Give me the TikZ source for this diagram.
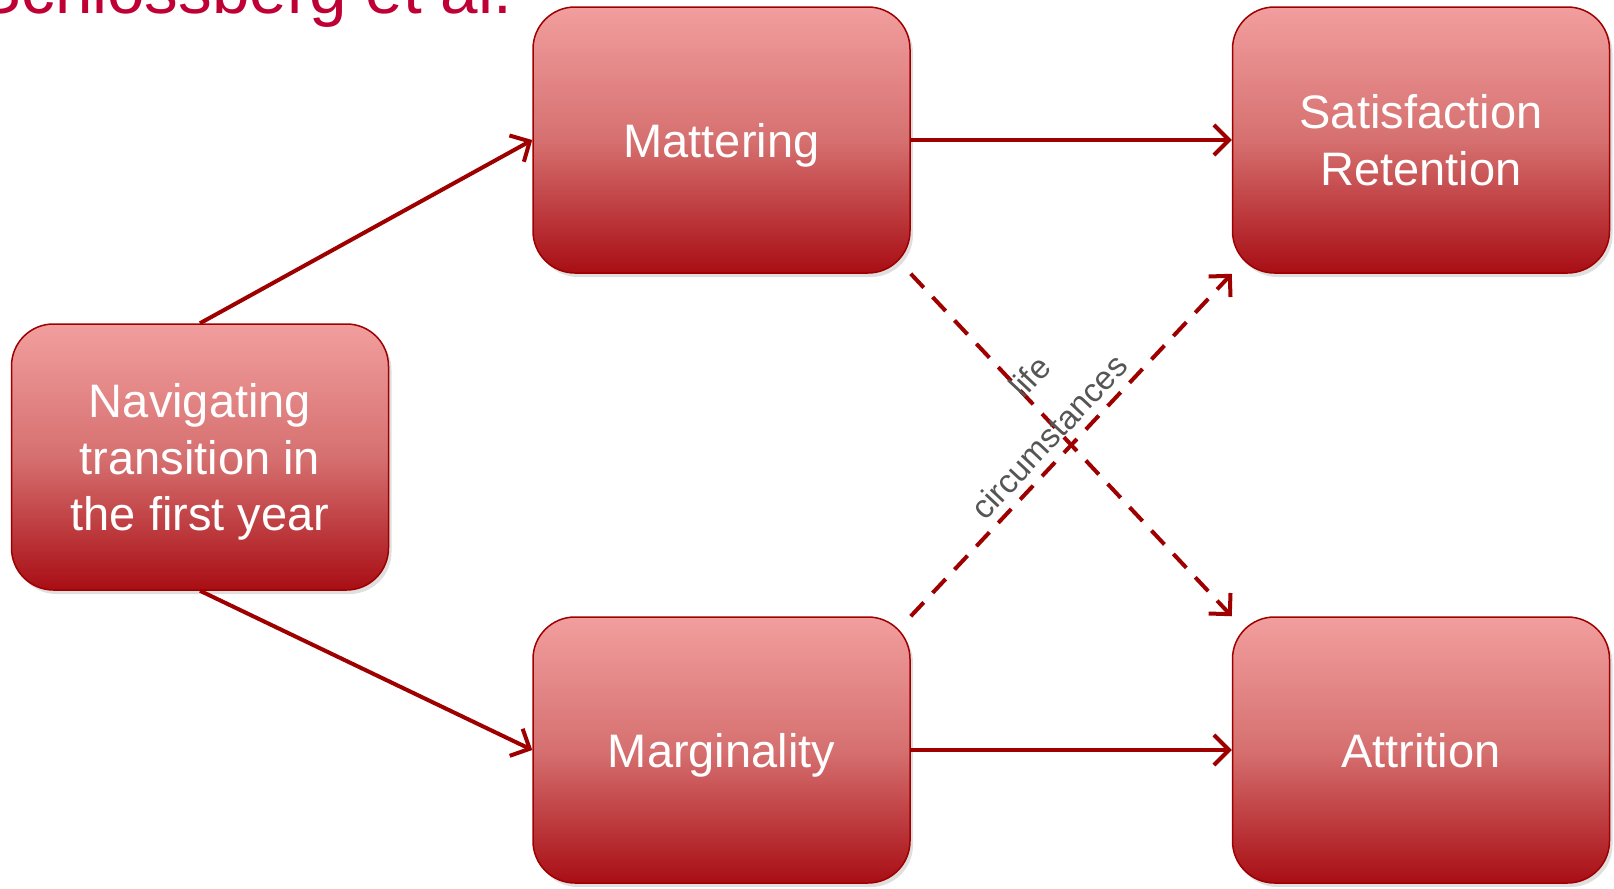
\documentclass[tikz,border=0pt]{standalone}
\usepackage{fontspec}
\setmainfont{Liberation Sans}
\usetikzlibrary{positioning, arrows.meta,
shadows % soft shadow under the boxes
}
\definecolor{titlered}{RGB}{190,0,52}
\definecolor{boxtop}{RGB}{242,158,158}
\definecolor{boxmid}{RGB}{214,112,112}
\definecolor{boxbot}{RGB}{168,14,20}
\definecolor{linered}{RGB}{158,0,0}
\definecolor{labelgray}{RGB}{85,85,85}

\begin{document}
\begin{tikzpicture}[x=0.5pt, y=-0.5pt, node distance=160.5pt,%
  box/.style={draw=linered, line width=0.75pt, rounded corners=21pt,
    top color=boxtop, bottom color=boxbot, middle color=boxmid,
    minimum width=188.5pt, minimum height=133pt, text=white, align=center,
    text depth=0pt, font=\fontsize{23.5}{28.3}\selectfont,
    drop shadow={shadow xshift=1.5pt, shadow yshift=-2pt, opacity=0.25}},
  link/.style={draw=linered, line width=2pt, -{Straight Barb[length=7.5pt,width=15pt]}}
  ]
  \useasboundingbox (0,0) rectangle (1614,889);
  \node[anchor=base west, inner sep=0pt, text=titlered,
    font=\fontsize{33.7}{40}\selectfont] (title) at (-24,13) {Schlossberg et al.};
  \node[box] (nav) at (200,457) {Navigating\\transition in\\the first year};
  \node[box] (mat) at (721.5,140) {Mattering};
  \node[box] (mar) at (721.5,750) {Marginality};
  \node[box, right=of mat] (sat) {Satisfaction\\Retention};
  \node[box, right=of mar] (att) {Attrition};
    \draw[link] (nav.north) -- (mat.west);
    \draw[link] (nav.south) -- (mar.west);
    \draw[link] (mat.east) -- (sat.west);
    \draw[link] (mar.east) -- (att.west);
    \draw[link, dash pattern=on 9.5pt off 6.5pt] (mat.south east) -- (att.north west);
    \draw[link, dash pattern=on 9.5pt off 6.5pt] (mar.north east) --
      node[sloped, above, pos=0.48, inner sep=4pt, align=center, text=labelgray,
        font=\fontsize{16.5}{27.5}\selectfont] (lifelbl) {\hspace*{31pt}life\\circumstances}
      (sat.south west);
\end{tikzpicture}
\end{document}
